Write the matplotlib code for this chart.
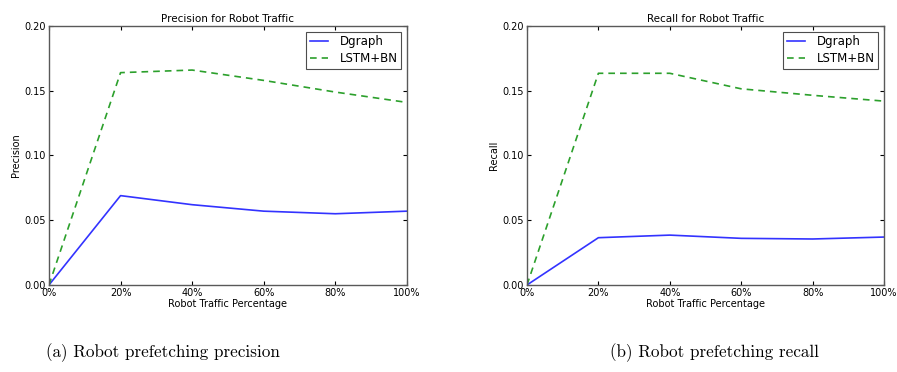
import matplotlib
matplotlib.use("Agg")
import matplotlib.pyplot as plt
from matplotlib.ticker import FuncFormatter

# data
traffic = [0, 20, 40, 60, 80, 100]
precision_dgraph = [0.0, 0.069, 0.062, 0.057, 0.055, 0.057]
precision_lstm = [0.0, 0.164, 0.166, 0.158, 0.149, 0.141]
recall_dgraph = [0.0, 0.0365, 0.0385, 0.036, 0.0355, 0.037]
recall_lstm = [0.0, 0.1635, 0.1635, 0.1515, 0.1465, 0.142]
yticks = [0.0, 0.05, 0.10, 0.15, 0.20]

plt.rcParams["font.family"] = "DejaVu Sans"

fig = plt.figure(figsize=(8.97, 3.72), dpi=100)
ax1 = fig.add_axes([0.0546, 0.234, 0.399, 0.696])
ax2 = fig.add_axes([0.5875, 0.234, 0.398, 0.696])


def draw(ax, dgraph, lstm, title, ylabel):
    ax.plot(traffic, dgraph, color="#3333ff", lw=1.2, label="Dgraph")
    ax.plot(traffic, lstm, color="#2ca02c", lw=1.2, ls=(0, (4, 3)), label="LSTM+BN")
    ax.set_xlim(0, 100)
    ax.set_ylim(0, 0.2)
    ax.set_xticks(traffic)
    ax.set_yticks(yticks)
    ax.xaxis.set_major_formatter(FuncFormatter(lambda v, p: "%d%%" % v))
    ax.yaxis.set_major_formatter(FuncFormatter(lambda v, p: "%.2f" % v))
    ax.tick_params(direction="in", top=True, right=True, length=3,
                   width=0.8, labelsize=7, pad=2)
    for s in ax.spines.values():
        s.set_color("0.35")
        s.set_linewidth(1.0)
    ax.set_title(title, fontsize=7.5, pad=3)
    ax.set_xlabel("Robot Traffic Percentage", fontsize=7, labelpad=1)
    ax.set_ylabel(ylabel, fontsize=7, labelpad=3)
    leg = ax.legend(loc="upper right", fontsize=8.5, handlelength=1.5,
                    fancybox=False, framealpha=1, borderaxespad=0.5,
                    borderpad=0.3, handletextpad=1.0, labelspacing=0.3)
    leg.get_frame().set_edgecolor("0.3")
    leg.get_frame().set_linewidth(0.8)


draw(ax1, precision_dgraph, precision_lstm, "Precision for Robot Traffic", "Precision")
draw(ax2, recall_dgraph, recall_lstm, "Recall for Robot Traffic", "Recall")

fig.text(0.182, 0.051, "(a) Robot prefetching precision", ha="center",
         va="center", fontsize=12.3, family="cmr10")
fig.text(0.796, 0.051, "(b) Robot prefetching recall", ha="center",
         va="center", fontsize=12.3, family="cmr10")

fig.savefig("out.png", dpi=100, facecolor="white")
